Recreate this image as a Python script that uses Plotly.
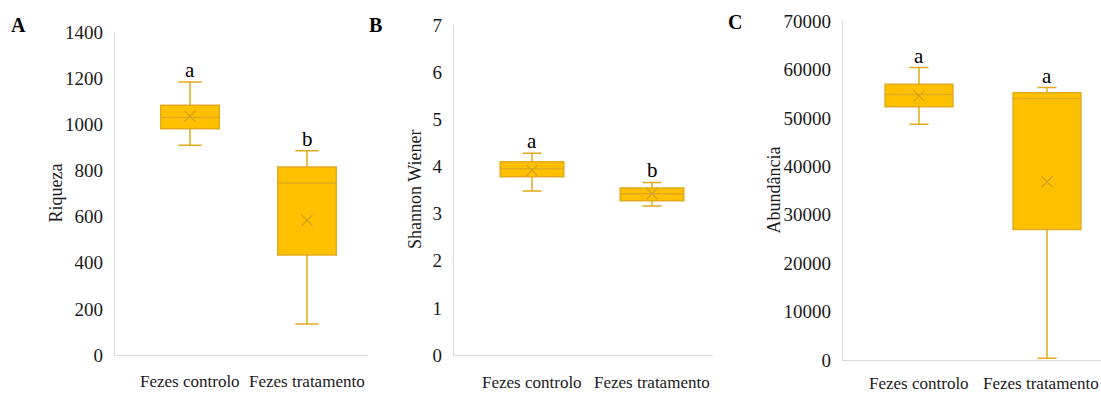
import plotly.graph_objects as go

categories = ["Fezes controlo", "Fezes tratamento"]

# Panel A - Riqueza
rich_low = [909, 134]
rich_q1 = [981, 433]
rich_med = [1029, 746]
rich_q3 = [1082, 815]
rich_high = [1183, 885]
rich_mean = [1035, 584]
rich_letters = ["a", "b"]

# Panel B - Shannon Wiener
sh_low = [3.48, 3.16]
sh_q1 = [3.78, 3.27]
sh_med = [3.95, 3.42]
sh_q3 = [4.10, 3.54]
sh_high = [4.28, 3.66]
sh_mean = [3.92, 3.42]
sh_letters = ["a", "b"]

# Panel C - Abundancia
ab_low = [48690, 340]
ab_q1 = [52270, 26960]
ab_med = [54810, 53990]
ab_q3 = [56950, 55160]
ab_high = [60380, 56260]
ab_mean = [54540, 36800]
ab_letters = ["a", "a"]

FILL = "#FFC000"
LINE = "#E2AA1E"
MEANC = "#D8A21E"
FONT = "Liberation Serif"
TXT = "#1a1a1a"

W, H = 1101, 394

panels = [
    dict(low=rich_low, q1=rich_q1, med=rich_med, q3=rich_q3, high=rich_high, mean=rich_mean,
         letters=rich_letters, title="Riqueza", rng=[0, 1400], dtick=200,
         xl=115, xr=368, c0=190, c1=307, ybot=355, ytop=32, bw=0.5, ww=0.4,
         tag="A", tagx=18, tagy=25, titx=55, xlaby=381),
    dict(low=sh_low, q1=sh_q1, med=sh_med, q3=sh_q3, high=sh_high, mean=sh_mean,
         letters=sh_letters, title="Shannon Wiener", rng=[0, 7], dtick=1,
         xl=454, xr=713, c0=532, c1=652, ybot=355, ytop=25, bw=0.53, ww=0.3,
         tag="B", tagx=375, tagy=25, titx=415, xlaby=382),
    dict(low=ab_low, q1=ab_q1, med=ab_med, q3=ab_q3, high=ab_high, mean=ab_mean,
         letters=ab_letters, title="Abundância", rng=[0, 70000], dtick=10000,
         xl=843, xr=1101, c0=919, c1=1047, ybot=360, ytop=21, bw=0.53, ww=0.28,
         tag="C", tagx=735, tagy=22, titx=773, xlaby=383),
]

fig = go.Figure()
annotations = []
for i, p in enumerate(panels):
    n = "" if i == 0 else str(i + 1)
    xa, ya = "x" + n, "y" + n
    unit = p["c1"] - p["c0"]
    xmin = -(p["c0"] - p["xl"]) / unit
    xmax = 1 + (p["xr"] - p["c1"]) / unit
    fig.add_trace(go.Box(
        x=[0, 1], q1=p["q1"], median=p["med"], q3=p["q3"],
        lowerfence=p["low"], upperfence=p["high"],
        fillcolor=FILL, line=dict(color=LINE, width=1.5),
        width=p["bw"], whiskerwidth=p["ww"], boxpoints=False,
        xaxis=xa, yaxis=ya, showlegend=False,
    ))
    fig.add_trace(go.Scatter(
        x=[0, 1], y=p["mean"], mode="markers",
        marker=dict(symbol="x-thin", size=11, line=dict(color=MEANC, width=1.3)),
        xaxis=xa, yaxis=ya, showlegend=False,
    ))
    for j, lt in enumerate(p["letters"]):
        annotations.append(dict(x=j, y=p["high"][j], xref=xa, yref=ya, text=lt,
                                showarrow=False, yanchor="bottom", yshift=-2,
                                font=dict(family=FONT, size=21, color="black")))
    for j, cat in enumerate(categories):
        ann = dict(x=j, y=(H - p["xlaby"]) / H, xref=xa, yref="paper", text=cat,
                   showarrow=False, xanchor="center", yanchor="middle",
                   font=dict(family=FONT, size=17, color=TXT))
        if i == 2 and j == 1:
            ann.update(x=1.0, xref="paper", xanchor="right")
        annotations.append(ann)
    xd = [p["xl"] / W, min(p["xr"] / W, 1.0)]
    yd = [(H - p["ybot"]) / H, (H - p["ytop"]) / H]
    fig.update_layout(**{
        ("xaxis" + n): dict(domain=xd, range=[xmin, xmax], tickvals=[0, 1], ticktext=["", ""],
                            showgrid=False, zeroline=False, showline=True, linecolor="#D9D9D9",
                            linewidth=1.2, ticks="", anchor=ya, fixedrange=True,
                            automargin=False),
        ("yaxis" + n): dict(domain=yd, range=p["rng"], dtick=p["dtick"], showgrid=False,
                            zeroline=False, showline=True, linecolor="#D9D9D9", linewidth=1.2,
                            ticks="", ticklabelstandoff=7, tickformat="d",
                            tickfont=dict(family=FONT, size=19, color=TXT),
                            anchor=xa, fixedrange=True, automargin=False),
    })
    annotations.append(dict(x=p["tagx"] / W, y=(H - p["tagy"]) / H, xref="paper", yref="paper",
                            text="<b>" + p["tag"] + "</b>", showarrow=False,
                            xanchor="center", yanchor="middle",
                            font=dict(family=FONT, size=20, color="black")))
    annotations.append(dict(x=p["titx"] / W, y=(H - (p["ybot"] + p["ytop"]) / 2) / H,
                            xref="paper", yref="paper", text=p["title"], textangle=-90,
                            showarrow=False, xanchor="center", yanchor="middle",
                            font=dict(family=FONT, size=18, color=TXT)))

fig.update_layout(width=W, height=H, margin=dict(l=0, r=0, t=0, b=0),
                  paper_bgcolor="white", plot_bgcolor="white",
                  font=dict(family=FONT, color=TXT),
                  annotations=annotations, showlegend=False)

fig.write_html("out.html", config={"displayModeBar": False})
